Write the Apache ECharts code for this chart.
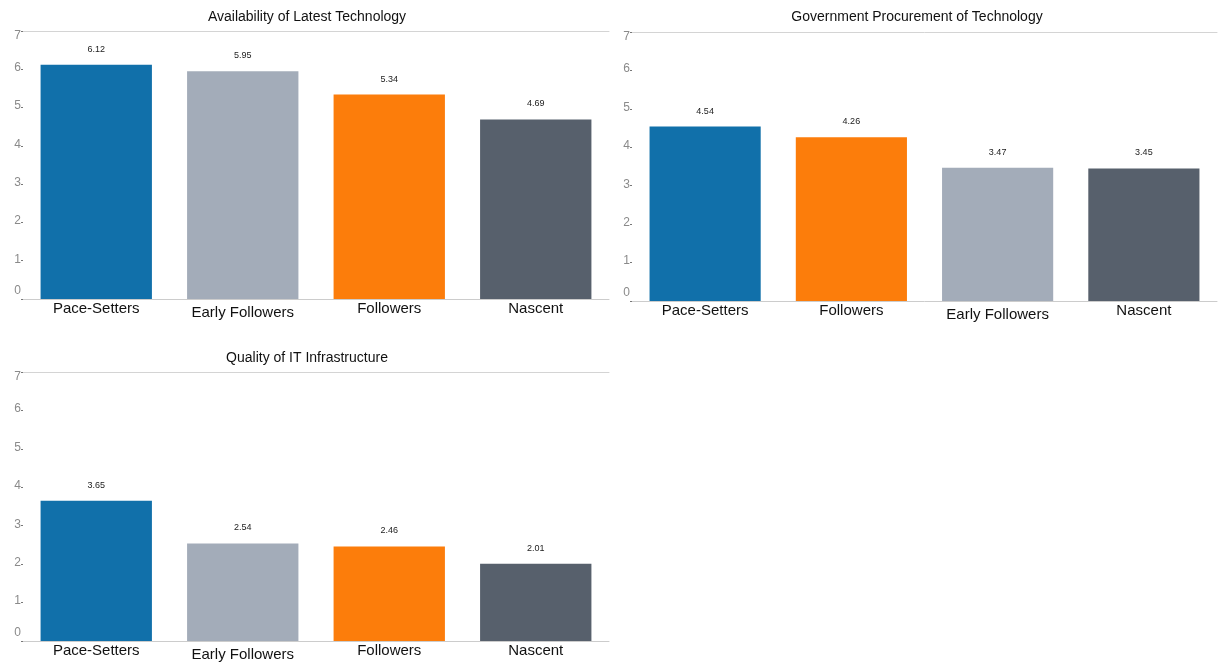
<!DOCTYPE html>
<html><head><meta charset="utf-8">
<script src="https://cdn.jsdelivr.net/npm/echarts@6/dist/echarts.min.js"></script>
<style>html,body{margin:0;padding:0;background:#fff}#c{width:1218px;height:664px}</style>
</head><body><div id="c"></div>
<script>
const titles = ['Availability of Latest Technology', 'Government Procurement of Technology', 'Quality of IT Infrastructure'];
const cats1 = ['Pace-Setters', 'Early Followers', 'Followers', 'Nascent'];
const vals1 = [6.12, 5.95, 5.34, 4.69];
const cats2 = ['Pace-Setters', 'Followers', 'Early Followers', 'Nascent'];
const vals2 = [4.54, 4.26, 3.47, 3.45];
const cats3 = ['Pace-Setters', 'Early Followers', 'Followers', 'Nascent'];
const vals3 = [3.65, 2.54, 2.46, 2.01];
const yTicks = [0, 1, 2, 3, 4, 5, 6, 7];

const colorOf = {'Pace-Setters':'#1170aa','Early Followers':'#a3acb9','Followers':'#fc7d0b','Nascent':'#57606c'};
const FONT = '"Liberation Sans", Arial, sans-serif';
const grids = [
  {left: 23, top: 31, width: 586, height: 268},
  {left: 632, top: 32, width: 585, height: 269},
  {left: 23, top: 372, width: 586, height: 269}
];
const titlePos = [[302, 5], [912, 5], [302, 346]];
const panels = [[cats1, vals1], [cats2, vals2], [cats3, vals3]];

const xAxis = [], yAxis = [], series = [], title = [];
panels.forEach(([cats, vals], i) => {
  title.push({text: titles[i], left: titlePos[i][0], top: titlePos[i][1], textAlign: 'center',
    textStyle: {fontFamily: FONT, fontSize: 14, fontWeight: 'normal', color: '#111'}});
  xAxis.push({type: 'category', gridIndex: i, data: cats.map(c => c === 'Early Followers'
      ? {value: c, textStyle: {padding: [4, 0, 0, 0]}} : c),
    axisLine: {lineStyle: {color: '#cccccc', width: 1}}, axisTick: {show: false},
    axisLabel: {fontFamily: FONT, fontSize: 15, color: '#111', margin: 2, interval: 0}});
  xAxis.push({type: 'category', gridIndex: i, position: 'top', data: cats,
    axisLine: {lineStyle: {color: '#d4d4d4', width: 1}}, axisTick: {show: false}, axisLabel: {show: false}});
  yAxis.push({type: 'value', gridIndex: i, min: yTicks[0], max: yTicks[yTicks.length - 1], interval: 1,
    axisLine: {show: false}, splitLine: {show: false},
    axisTick: {show: true, length: 2, lineStyle: {color: '#777'}},
    axisLabel: {fontFamily: FONT, fontSize: 12, color: '#8a8a8a', margin: 2,
      formatter: v => v === 7 ? '{t|' + v + '}' : v === 0 ? '{b|' + v + '}' : '{m|' + v + '}',
      rich: {t: {fontFamily: FONT, fontSize: 12, color: '#8a8a8a', padding: [10, 0, 0, 0]},
             b: {fontFamily: FONT, fontSize: 12, color: '#8a8a8a', padding: [0, 0, 17, 0]},
             m: {fontFamily: FONT, fontSize: 12, color: '#8a8a8a', padding: [0, 0, 3, 0]}}}});
  series.push({type: 'bar', xAxisIndex: i * 2, yAxisIndex: i, barCategoryGap: '24%',
    data: vals.map((v, k) => ({value: v, itemStyle: {color: colorOf[cats[k]]}})),
    label: {show: true, position: 'top', distance: 11, fontFamily: FONT, fontSize: 9, color: '#222'},
    animation: false});
});

const chart = echarts.init(document.getElementById('c'));
chart.setOption({animation: false, title, grid: grids, xAxis, yAxis, series});
</script></body></html>
